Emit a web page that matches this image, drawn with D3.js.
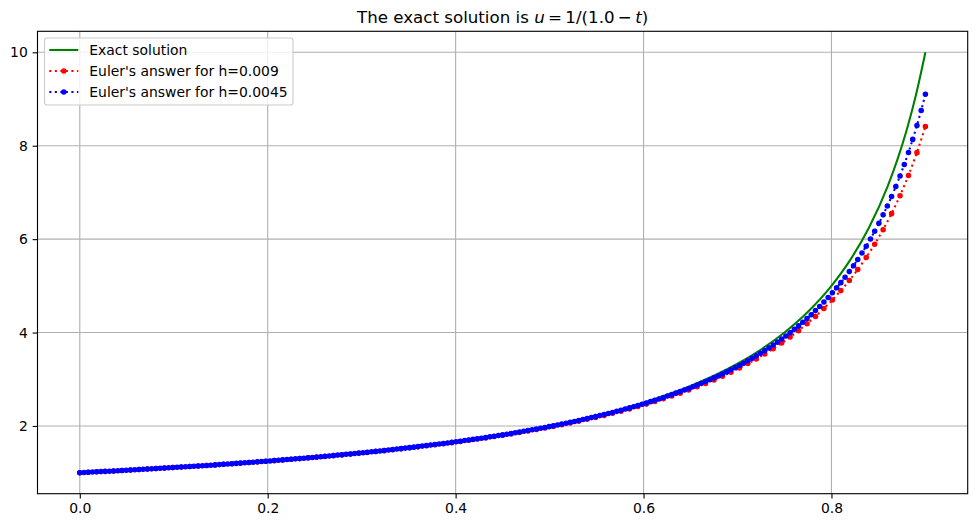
<!DOCTYPE html>
<html><head><meta charset="utf-8">
<script src="https://cdn.jsdelivr.net/npm/d3@7"></script>
<style>body{margin:0;background:#fff}svg{display:block}text{font-family:"DejaVu Sans",sans-serif;fill:#000}</style>
</head><body><svg id="c" width="977" height="527"></svg>
<script>
// exact solution samples u = 1/(1 - t)
const exactT = [0,0.05,0.1,0.15,0.2,0.25,0.3,0.35,0.4,0.45,0.5,0.55,0.6,0.65,0.7,0.725,0.75,0.775,0.8,0.82,0.84,0.86,0.87,0.88,0.89,0.9];
const exactU = [1,1.0526,1.1111,1.1765,1.25,1.3333,1.4286,1.5385,1.6667,1.8182,2,2.2222,2.5,2.8571,3.3333,3.6364,4,4.4444,5,5.5556,6.25,7.1429,7.6923,8.3333,9.0909,10];

// step sizes (from the legend)
const hRed = 0.009;
const hBlue = 0.0045;

// Euler answers, h = 0.009 (t = 0 ... 0.9)
const eulerRedU = [1.000,1.009,1.018,1.027,1.037,1.047,1.057,1.067,1.077,1.087,1.098,
1.109,1.120,1.131,1.143,1.154,1.166,1.179,1.191,1.204,1.217,
1.230,1.244,1.258,1.272,1.287,1.301,1.317,1.332,1.348,1.365,
1.381,1.399,1.416,1.434,1.453,1.472,1.491,1.511,1.532,1.553,
1.575,1.597,1.620,1.643,1.668,1.693,1.719,1.745,1.773,1.801,
1.830,1.860,1.891,1.924,1.957,1.991,2.027,2.064,2.102,2.142,
2.183,2.226,2.271,2.317,2.365,2.416,2.468,2.523,2.581,2.641,
2.703,2.769,2.838,2.910,2.986,3.067,3.151,3.241,3.336,3.436,
3.542,3.655,3.775,3.904,4.041,4.188,4.345,4.515,4.699,4.898,
5.113,5.348,5.606,5.889,6.203,6.546,6.930,7.363,7.852,8.411];

// Euler answers, h = 0.0045 (t = 0 ... 0.9)
const eulerBlueU = [1.000,1.004,1.009,1.014,1.018,1.023,1.028,1.032,1.037,1.042,1.047,1.052,1.057,1.062,1.067,1.072,1.077,1.082,1.088,1.093,1.098,
1.104,1.109,1.115,1.120,1.126,1.132,1.138,1.143,1.149,1.155,1.161,1.167,1.173,1.180,1.186,1.192,1.199,1.205,1.212,1.218,
1.225,1.232,1.238,1.245,1.252,1.259,1.267,1.274,1.281,1.288,1.296,1.303,1.311,1.319,1.327,1.335,1.343,1.351,1.359,1.367,
1.376,1.384,1.393,1.402,1.410,1.419,1.428,1.438,1.447,1.456,1.466,1.475,1.485,1.495,1.505,1.515,1.526,1.536,1.547,1.558,
1.569,1.580,1.591,1.602,1.614,1.626,1.637,1.649,1.662,1.674,1.687,1.700,1.713,1.726,1.739,1.753,1.767,1.781,1.795,1.809,
1.824,1.839,1.854,1.870,1.886,1.902,1.918,1.934,1.951,1.968,1.986,2.003,2.022,2.040,2.059,2.078,2.097,2.117,2.137,2.158,
2.179,2.200,2.222,2.244,2.267,2.290,2.313,2.337,2.362,2.387,2.413,2.439,2.466,2.493,2.521,2.550,2.579,2.609,2.640,2.671,
2.703,2.736,2.769,2.804,2.839,2.875,2.913,2.951,2.990,3.030,3.072,3.114,3.158,3.203,3.249,3.296,3.345,3.396,3.448,3.501,
3.556,3.613,3.672,3.733,3.795,3.860,3.927,3.997,4.069,4.143,
4.220,4.300,4.383,4.470,4.560,4.653,4.751,4.852,4.958,5.069,
5.185,5.305,5.432,5.565,5.704,5.850,6.004,6.167,6.338,6.520,
6.710,6.912,7.126,7.354,7.598,7.857,8.136,8.434,8.756,9.102];

const xTicks = [0.0,0.2,0.4,0.6,0.8];
const yTicks = [2,4,6,8,10];
const legendLabels = ["Exact solution","Euler's answer for h=0.009","Euler's answer for h=0.0045"];
const colors = ["green","red","blue"];

const exact = exactT.map((t,i)=>({t, u: exactU[i]}));
const red = eulerRedU.map((u,i)=>({t: i*hRed, u}));
const blue = eulerBlueU.map((u,i)=>({t: i*hBlue, u}));

const svg = d3.select("#c");
const L=37.5, R=967.7, T=31.3, B=493.7;
const x = d3.scaleLinear().domain([-0.045,0.945]).range([L,R]);
const y = d3.scaleLinear().domain([0.55,10.45]).range([B,T]);
const fs = 13.9, lw = 2.08;

svg.append("rect").attr("width",977).attr("height",527).attr("fill","#fff");
svg.append("defs").append("clipPath").attr("id","clip")
  .append("rect").attr("x",L).attr("y",T).attr("width",R-L).attr("height",B-T);

// grid
const grid = svg.append("g").attr("stroke","#b0b0b0").attr("stroke-width",1.11);
grid.selectAll("line.gx").data(xTicks).join("line").attr("class","gx")
  .attr("x1",d=>x(d)).attr("x2",d=>x(d)).attr("y1",T).attr("y2",B);
grid.selectAll("line.gy").data(yTicks).join("line").attr("class","gy")
  .attr("y1",d=>y(d)).attr("y2",d=>y(d)).attr("x1",L).attr("x2",R);

// data
const plot = svg.append("g").attr("clip-path","url(#clip)");
const line = d3.line().x(d=>x(d.t)).y(d=>y(d.u));
plot.append("path").datum(exact).attr("fill","none").attr("stroke",colors[0])
  .attr("stroke-width",lw).attr("d",line.curve(d3.curveMonotoneX));
const line2 = d3.line().x(d=>x(d.t)).y(d=>y(d.u));
[[red,colors[1]],[blue,colors[2]]].forEach(([data,col])=>{
  plot.append("path").datum(data).attr("fill","none").attr("stroke",col)
    .attr("stroke-width",lw).attr("stroke-dasharray","2.08,3.44").attr("d",line2);
  plot.append("g").selectAll("circle").data(data).join("circle")
    .attr("cx",d=>x(d.t)).attr("cy",d=>y(d.u)).attr("r",2.08)
    .attr("fill",col).attr("stroke",col).attr("stroke-width",1.39);
});

// axes
const xa = svg.append("g").attr("transform",`translate(0,${B})`)
  .call(d3.axisBottom(x).tickValues(xTicks).tickFormat(d3.format(".1f")).tickSize(4.86).tickPadding(4.86));
const ya = svg.append("g").attr("transform",`translate(${L},0)`)
  .call(d3.axisLeft(y).tickValues(yTicks).tickFormat(d3.format("d")).tickSize(4.86).tickPadding(4.86));
[xa,ya].forEach(a=>{
  a.select(".domain").remove();
  a.selectAll(".tick line").attr("stroke","#000").attr("stroke-width",1.11);
  a.selectAll(".tick text").attr("font-size",fs).attr("font-family","DejaVu Sans").attr("fill","#000");
});
svg.append("rect").attr("x",L).attr("y",T).attr("width",R-L).attr("height",B-T)
  .attr("fill","none").attr("stroke","#000").attr("stroke-width",1.11);

// title
const title = svg.append("text").attr("x",(L+R)/2).attr("y",23).attr("text-anchor","middle").attr("font-size",16.67);
title.append("tspan").text("The exact solution is ");
title.append("tspan").attr("font-style","italic").text("u");
title.append("tspan").text("\u2009=\u20091/(1.0\u2009\u2212\u2009");
title.append("tspan").attr("font-style","italic").text("t");
title.append("tspan").text(")");

// legend
const lg = svg.append("g");
lg.append("rect").attr("x",44.5).attr("y",38).attr("width",248.5).attr("height",67).attr("rx",2.8)
  .attr("fill","#fff").attr("fill-opacity",0.8).attr("stroke","#cccccc").attr("stroke-width",1.11);
legendLabels.forEach((lab,i)=>{
  const cy = 50 + i*21;
  const g = lg.append("g");
  g.append("line").attr("x1",49.3).attr("x2",78.3).attr("y1",cy).attr("y2",cy)
    .attr("stroke",colors[i]).attr("stroke-width",lw)
    .attr("stroke-dasharray", i===0 ? null : "2.08,3.44");
  if(i>0) g.append("circle").attr("cx",63.8).attr("cy",cy).attr("r",2.08)
    .attr("fill",colors[i]).attr("stroke",colors[i]).attr("stroke-width",1.39);
  g.append("text").attr("x",89.3).attr("y",cy).attr("dy","0.36em").attr("font-size",fs).text(lab);
});
</script></body></html>
